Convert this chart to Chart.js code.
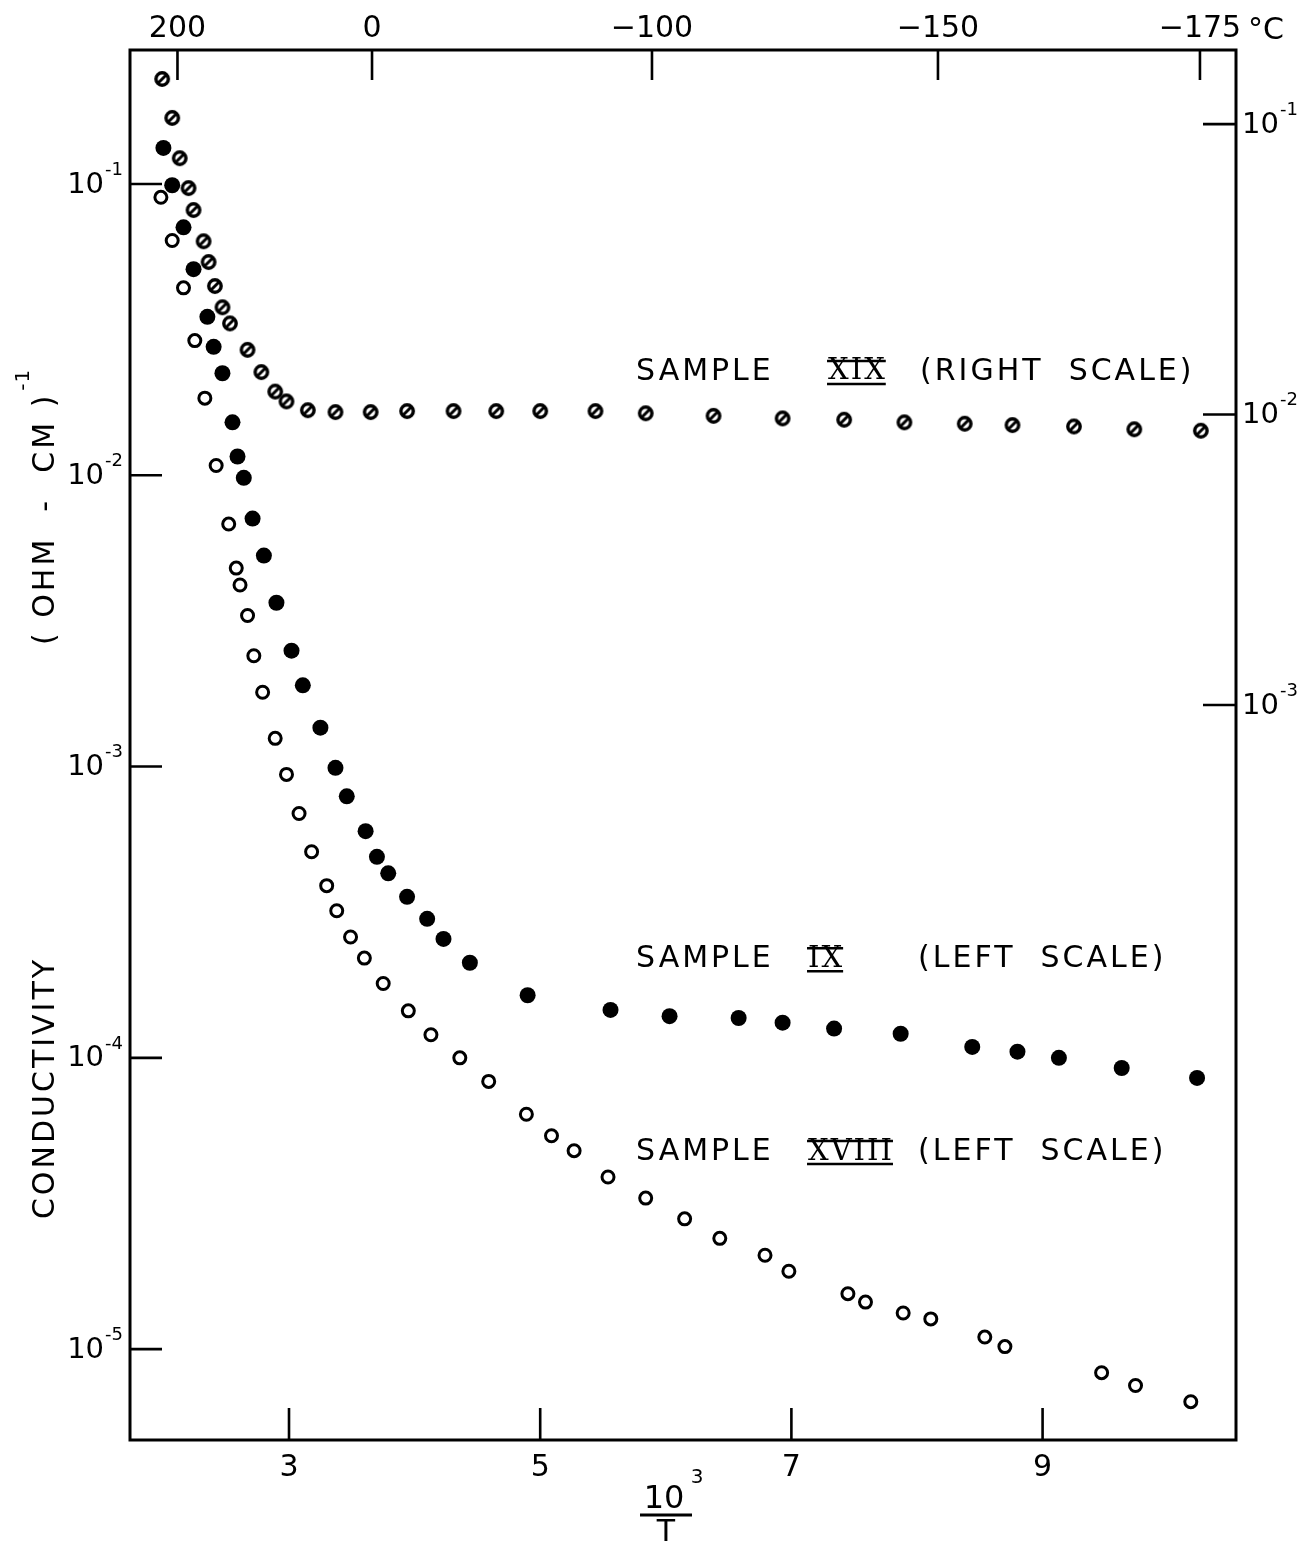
<!DOCTYPE html>
<html>
<head>
<meta charset="utf-8">
<script src="https://cdn.jsdelivr.net/npm/chart.js@4.4.1/dist/chart.umd.min.js"></script>
<style>
  html, body { margin: 0; padding: 0; background: #fff; }
  #wrap { width: 1301px; height: 1543px; position: relative; }
</style>
</head>
<body>
<div id="wrap"><canvas id="chart"></canvas></div>
<script>
// x = 10^3 / T, y = conductivity (ohm-cm)^-1

// sample XVIII, open circles, left scale
const xviiiX = [1.98, 2.07, 2.16, 2.25, 2.33, 2.42, 2.52, 2.58, 2.61, 2.67, 2.72, 2.79, 2.89, 2.98, 3.08,
    3.18, 3.30, 3.38, 3.49, 3.60, 3.75, 3.95, 4.13, 4.36, 4.59, 4.89, 5.09, 5.27, 5.54, 5.84, 6.15, 6.43,
    6.79, 6.98, 7.45, 7.59, 7.89, 8.11, 8.54, 8.70, 9.47, 9.74, 10.18];
const xviiiY = [0.090, 0.064, 0.044, 0.029, 0.0184, 0.0108, 0.0068, 0.0048, 0.0042, 0.0033, 0.0024, 0.0018,
    0.00125, 0.00094, 0.00069, 0.00051, 0.00039, 0.00032, 0.00026, 0.00022, 0.00018, 0.000145, 0.00012,
    0.00010, 0.000083, 0.000064, 0.000054, 0.000048, 0.000039, 0.000033, 0.000028, 0.000024, 0.000021,
    0.0000185, 0.0000155, 0.0000145, 0.0000133, 0.0000127, 0.0000110, 0.0000102, 0.0000083, 0.0000075,
    0.0000066];

// sample IX, filled circles, left scale
const ixX = [2.00, 2.07, 2.16, 2.24, 2.35, 2.40, 2.47, 2.55, 2.59, 2.64, 2.71, 2.80, 2.90, 3.02, 3.11, 3.25,
    3.37, 3.46, 3.61, 3.70, 3.79, 3.94, 4.10, 4.23, 4.44, 4.90, 5.56, 6.03, 6.58, 6.93, 7.34, 7.87, 8.44,
    8.80, 9.13, 9.63, 10.23];
const ixY = [0.133, 0.099, 0.071, 0.051, 0.035, 0.0276, 0.0224, 0.0152, 0.0116, 0.0098, 0.0071, 0.0053,
    0.00365, 0.0025, 0.0019, 0.00136, 0.00099, 0.00079, 0.0006, 0.00049, 0.00043, 0.000357, 0.0003,
    0.000256, 0.000212, 0.000164, 0.000146, 0.000139, 0.000137, 0.000132, 0.000126, 0.000121, 0.000109,
    0.000105, 0.0001, 0.0000923, 0.0000853];

// sample XIX, hatched circles, right scale
const xixX = [1.99, 2.07, 2.13, 2.20, 2.24, 2.32, 2.36, 2.41, 2.47, 2.53, 2.67, 2.78, 2.89, 2.98, 3.15, 3.37,
    3.65, 3.94, 4.31, 4.65, 5.00, 5.44, 5.84, 6.38, 6.93, 7.42, 7.90, 8.38, 8.76, 9.25, 9.73, 10.26];
const xixY = [0.143, 0.105, 0.0763, 0.0602, 0.0506, 0.0395, 0.0335, 0.0277, 0.0234, 0.0206, 0.0167, 0.0140,
    0.0120, 0.0111, 0.01035, 0.0102, 0.0102, 0.01028, 0.01028, 0.01028, 0.01028, 0.01028, 0.0101, 0.0099,
    0.0097, 0.0096, 0.0094, 0.0093, 0.0092, 0.0091, 0.0089, 0.0088];

const bottomTicks = [3, 5, 7, 9];
const leftTicks = [1e-1, 1e-2, 1e-3, 1e-4, 1e-5];
const rightTicks = [1e-1, 1e-2, 1e-3];
const celsiusLabels = ['200', '0', '\u2212100', '\u2212150', '\u2212175'];
const celsiusAt = [2.112, 3.661, 5.89, 8.167, 10.253];

const font = '"DejaVu Sans", sans-serif';
const pts = (xs, ys) => xs.map((x, i) => ({ x: x, y: ys[i] }));
const expOf = v => String(Math.round(Math.log10(v)));

// hatched marker: ring with a slash
const hatched = document.createElement('canvas');
hatched.width = 20; hatched.height = 20;
{
    const c = hatched.getContext('2d');
    c.fillStyle = '#fff';
    c.strokeStyle = '#000';
    c.lineWidth = 3.4;
    c.beginPath(); c.arc(10, 10, 6.2, 0, Math.PI * 2); c.fill(); c.stroke();
    c.lineWidth = 3;
    c.beginPath(); c.moveTo(6, 14); c.lineTo(14, 6); c.stroke();
}

const notes = [
    { at: [5.763, 0.02264], num: 'XIX', numOff: 192, scale: '(RIGHT  SCALE)', scaleOff: 284 },
    { at: [5.763, 2.18e-4], num: 'IX', numOff: 172, scale: '(LEFT  SCALE)', scaleOff: 282 },
    { at: [5.763, 4.75e-5], num: 'XVIII', numOff: 172, scale: '(LEFT  SCALE)', scaleOff: 282 }
];

// 10 with a raised exponent, anchored left or right
const drawPow = (ctx, v, x, y, align) => {
    const e = expOf(v);
    ctx.font = '29px ' + font;
    const w10 = ctx.measureText('10').width;
    ctx.font = '18px ' + font;
    const we = ctx.measureText(e).width;
    const x0 = align === 'right' ? x - we - w10 - 1 : x;
    ctx.textAlign = 'left';
    ctx.textBaseline = 'middle';
    ctx.font = '29px ' + font;
    ctx.fillText('10', x0, y + 1);
    ctx.font = '18px ' + font;
    ctx.fillText(e, x0 + w10 + 1, y - 14);
};

const decor = {
    id: 'decor',
    beforeDraw: chart => {
        const ctx = chart.ctx;
        ctx.save();
        ctx.fillStyle = '#fff';
        ctx.fillRect(0, 0, chart.width, chart.height);
        ctx.restore();
    },
    afterDraw: chart => {
        const ctx = chart.ctx;
        const a = chart.chartArea;
        const s = chart.scales;
        ctx.save();
        ctx.strokeStyle = '#000';
        ctx.fillStyle = '#000';
        ctx.lineWidth = 3;
        ctx.strokeRect(a.left, a.top, a.right - a.left, a.bottom - a.top);

        // inward ticks
        ctx.lineWidth = 2.6;
        ctx.beginPath();
        for (const v of bottomTicks) {
            const p = s.x.getPixelForValue(v);
            ctx.moveTo(p, a.bottom); ctx.lineTo(p, a.bottom - 32);
        }
        for (const v of celsiusAt) {
            const p = s.x2.getPixelForValue(v);
            ctx.moveTo(p, a.top); ctx.lineTo(p, a.top + 30);
        }
        for (const v of leftTicks) {
            const p = s.y.getPixelForValue(v);
            ctx.moveTo(a.left, p); ctx.lineTo(a.left + 32, p);
        }
        for (const v of rightTicks) {
            const p = s.y2.getPixelForValue(v);
            ctx.moveTo(a.right, p); ctx.lineTo(a.right - 33, p);
        }
        ctx.stroke();

        // power-of-ten labels on both log axes
        for (const v of leftTicks) drawPow(ctx, v, a.left - 7, s.y.getPixelForValue(v), 'right');
        for (const v of rightTicks) drawPow(ctx, v, a.right + 6, s.y2.getPixelForValue(v), 'left');

        // degree C unit on top axis
        ctx.font = '30px ' + font;
        ctx.textBaseline = 'middle';
        ctx.textAlign = 'left';
        ctx.fillText('\u00B0C', a.right + 12, a.top - 19);

        // sample labels
        for (const n of notes) {
            const x0 = s.x.getPixelForValue(n.at[0]);
            const yc = s.y.getPixelForValue(n.at[1]);
            ctx.font = '30px ' + font;
            ctx.letterSpacing = '3px';
            ctx.textBaseline = 'middle';
            ctx.fillText('SAMPLE', x0, yc);
            ctx.fillText(n.scale, x0 + n.scaleOff, yc);
            ctx.font = '29px "DejaVu Serif", serif';
            ctx.letterSpacing = '2px';
            const nx = x0 + n.numOff;
            ctx.fillText(n.num, nx, yc);
            const w = ctx.measureText(n.num).width - 2;
            ctx.lineWidth = 2.5;
            ctx.beginPath();
            ctx.moveTo(nx - 1, yc - 11); ctx.lineTo(nx + w + 1, yc - 11);
            ctx.moveTo(nx - 1, yc + 12); ctx.lineTo(nx + w + 1, yc + 12);
            ctx.stroke();
        }

        // left axis title
        ctx.letterSpacing = '3px';
        ctx.font = '30px ' + font;
        ctx.textAlign = 'center';
        ctx.save();
        ctx.translate(a.left - 84, 1088);
        ctx.rotate(-Math.PI / 2);
        ctx.fillText('CONDUCTIVITY', 0, 0);
        ctx.restore();
        ctx.save();
        ctx.translate(a.left - 84, 645);
        ctx.rotate(-Math.PI / 2);
        ctx.textAlign = 'left';
        const t = '( OHM  -  CM )';
        ctx.fillText(t, 0, 0);
        const tw = ctx.measureText(t).width;
        ctx.font = '20px ' + font;
        ctx.letterSpacing = '1px';
        ctx.fillText('-1', tw + 2, -22);
        ctx.restore();

        // bottom axis title 10^3 / T
        const cx = 666;
        ctx.letterSpacing = '0px';
        ctx.textAlign = 'center';
        ctx.font = '32px ' + font;
        ctx.fillText('10', cx - 2, a.bottom + 60);
        ctx.font = '20px ' + font;
        ctx.fillText('3', cx + 31, a.bottom + 38);
        ctx.lineWidth = 3;
        ctx.beginPath();
        ctx.moveTo(cx - 26, a.bottom + 75); ctx.lineTo(cx + 26, a.bottom + 75);
        ctx.stroke();
        ctx.font = '30px ' + font;
        ctx.fillText('T', cx, a.bottom + 93);
        ctx.restore();
    }
};

new Chart(document.getElementById('chart'), {
    type: 'scatter',
    data: {
        datasets: [
            {
                label: 'SAMPLE XVIII', data: pts(xviiiX, xviiiY), yAxisID: 'y',
                pointStyle: 'circle', pointRadius: 6, borderWidth: 3,
                borderColor: '#000', backgroundColor: '#fff'
            },
            {
                label: 'SAMPLE IX', data: pts(ixX, ixY), yAxisID: 'y',
                pointStyle: 'circle', pointRadius: 8, borderWidth: 0,
                borderColor: '#000', backgroundColor: '#000'
            },
            {
                label: 'SAMPLE XIX', data: pts(xixX, xixY), yAxisID: 'y2',
                pointStyle: hatched, pointRadius: 8
            }
        ]
    },
    options: {
        responsive: true,
        maintainAspectRatio: false,
        animation: false,
        events: [],
        layout: { padding: 0 },
        plugins: { legend: { display: false }, tooltip: { enabled: false } },
        scales: {
            x: {
                type: 'linear', position: 'bottom', min: 1.734, max: 10.54,
                grid: { display: false, drawTicks: false }, border: { display: false },
                ticks: { font: { family: font, size: 30 }, color: '#000', padding: 10, maxRotation: 0, autoSkip: false },
                afterBuildTicks: sc => { sc.ticks = bottomTicks.map(v => ({ value: v })); },
                afterFit: sc => { sc.height = 103; }
            },
            x2: {
                type: 'linear', position: 'top', min: 1.734, max: 10.54,
                grid: { display: false, drawTicks: false }, border: { display: false },
                ticks: {
                    font: { family: font, size: 30 }, color: '#000', padding: 3, maxRotation: 0, autoSkip: false,
                    callback: (v, i) => celsiusLabels[i]
                },
                afterBuildTicks: sc => { sc.ticks = celsiusAt.map(v => ({ value: v })); },
                afterFit: sc => { sc.height = 50; }
            },
            y: {
                type: 'logarithmic', position: 'left', min: Math.pow(10, -5.312), max: Math.pow(10, -0.540),
                grid: { display: false, drawTicks: false }, border: { display: false },
                ticks: { display: false },
                afterBuildTicks: sc => { sc.ticks = leftTicks.map(v => ({ value: v })); },
                afterFit: sc => { sc.width = 130; }
            },
            y2: {
                type: 'logarithmic', position: 'right', min: Math.pow(10, -5.530), max: Math.pow(10, -0.745),
                grid: { display: false, drawTicks: false }, border: { display: false },
                ticks: { display: false },
                afterBuildTicks: sc => { sc.ticks = rightTicks.map(v => ({ value: v })); },
                afterFit: sc => { sc.width = 65; }
            }
        }
    },
    plugins: [decor]
});
</script>
</body>
</html>
